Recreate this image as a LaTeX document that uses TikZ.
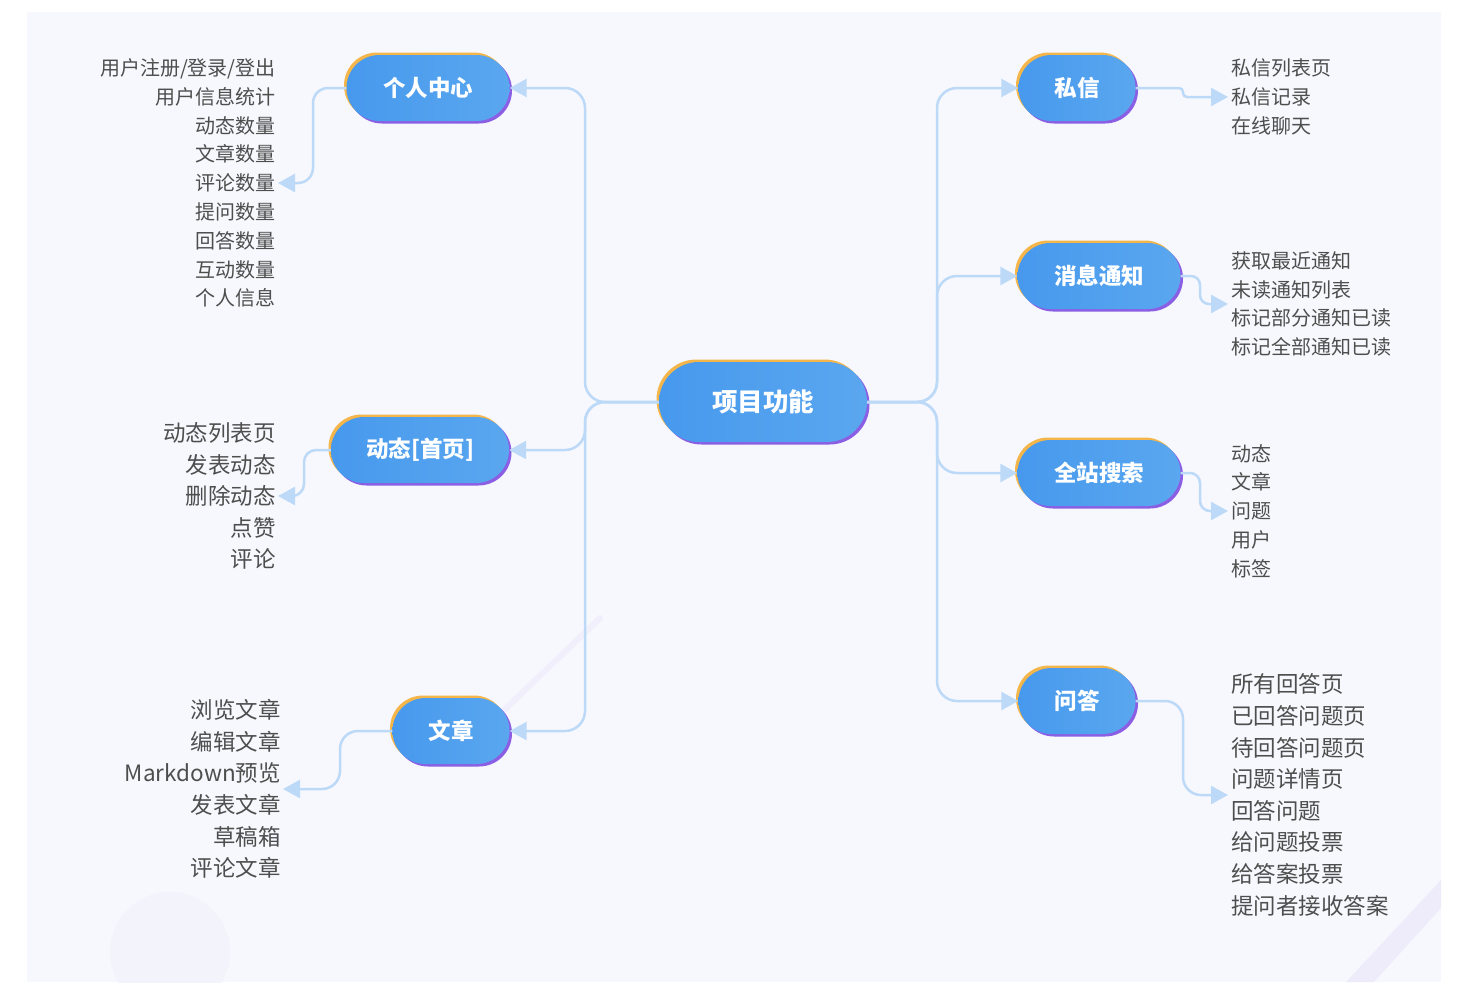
\documentclass[tikz,border=0pt]{standalone}
\usepackage{fontspec}
\setmainfont{Noto Sans CJK SC}
\usetikzlibrary{arrows.meta,shadows}
\definecolor{bg}{HTML}{F7F8FD}
\definecolor{nblue}{HTML}{4799EE}
\definecolor{nblue2}{HTML}{5AA7EF}
\definecolor{norange}{HTML}{F4B64A}
\definecolor{npurple}{HTML}{8B5FE4}
\definecolor{conncol}{HTML}{BCD9F8}
\definecolor{txt}{HTML}{4E4E4E}
\definecolor{deco}{HTML}{F2F3FB}
\definecolor{deco2}{HTML}{EEECFB}
\tikzset{
 topic/.style={rectangle, rounded corners=33pt, minimum height=66pt, inner sep=0pt,
   left color=nblue, right color=nblue2, text=white,
   font=\fontsize{22.5pt}{26pt}\selectfont\bfseries,
   general shadow={shadow xshift=-2.5pt, shadow yshift=2.5pt, fill=norange},
   general shadow={shadow xshift=2.5pt, shadow yshift=-2.5pt, fill=npurple}},
 conn/.style={draw=conncol, line width=2.5pt, -{Triangle[length=17pt,width=18pt]}},
 listl/.style={anchor=east, align=right, inner sep=0pt, text=txt},
 listr/.style={anchor=west, align=left, inner sep=0pt, text=txt},
 smalltxt/.style={font=\fontsize{20pt}{28.8pt}\selectfont},
 bigtxt/.style={font=\fontsize{22.5pt}{31.6pt}\selectfont},
}
\begin{document}
\begin{tikzpicture}[x=1pt,y=-1pt]
\useasboundingbox (0,0) rectangle (1464,1004);
\fill[white] (0,0) rectangle (1464,1004);
\fill[bg] (27,12) rectangle (1441,982);
\begin{scope}
\clip (27,12) rectangle (1441,982);
\fill[deco] (170,952) circle[radius=60pt];
\fill[deco2] (1441,880) -- (1441,908) -- (1374,982) -- (1346,982) -- cycle;
\draw[deco2, opacity=0.7, line width=6pt, line cap=round] (600,618) -- (498,716);
\end{scope}

% topics
\node[topic, minimum width=208pt, minimum height=80pt, rounded corners=40pt,
      font=\fontsize{25.5pt}{28pt}\selectfont\bfseries] (c) at (763,402) {项目功能};
\node[topic, minimum width=163pt] (p1) at (428,88) {个人中心};
\node[topic, minimum width=178pt] (p2) at (420,450) {动态[首页]};
\node[topic, minimum width=117pt] (p3) at (451,731) {文章};
\node[topic, minimum width=117pt] (s1) at (1077,88) {私信};
\node[topic, minimum width=163pt] (s2) at (1099,276) {消息通知};
\node[topic, minimum width=163pt] (s3) at (1099,473) {全站搜索};
\node[topic, minimum width=117pt] (s4) at (1077,701) {问答};

% lists
\node[listl, smalltxt] (l1) at (276,183) {用户注册/登录/登出\\用户信息统计\\动态数量\\文章数量\\评论数量\\提问数量\\回答数量\\互动数量\\个人信息};
\node[listl, bigtxt] (l2) at (276,496) {动态列表页\\发表动态\\删除动态\\点赞\\评论};
\node[listl, bigtxt] (l3) at (281,789) {浏览文章\\编辑文章\\Markdown预览\\发表文章\\草稿箱\\评论文章};
\node[listr, smalltxt] (r1) at (1231,97) {私信列表页\\私信记录\\在线聊天};
\node[listr, smalltxt] (r2) at (1231,304) {获取最近通知\\未读通知列表\\标记部分通知已读\\标记全部通知已读};
\node[listr, smalltxt] (r3) at (1231,511) {动态\\文章\\问题\\用户\\标签};
\node[listr, bigtxt] (r4) at (1231,795) {所有回答页\\已回答问题页\\待回答问题页\\问题详情页\\回答问题\\给问题投票\\给答案投票\\提问者接收答案};

% junctions
\coordinate (jl) at (585,402);
\coordinate (jr) at (937,402);
\draw[conn, rounded corners=20pt] (c.west) -- (jl) |- (p1.east);
\draw[conn, rounded corners=20pt] (c.west) -- (jl) |- (p2.east);
\draw[conn, rounded corners=20pt] (c.west) -- (jl) |- (p3.east);
\draw[conn, rounded corners=20pt] (c.east) -- (jr) |- (s1.west);
\draw[conn, rounded corners=20pt] (c.east) -- (jr) |- (s2.west);
\draw[conn, rounded corners=20pt] (c.east) -- (jr) |- (s3.west);
\draw[conn, rounded corners=20pt] (c.east) -- (jr) |- (s4.west);

% child connectors
\coordinate (t1) at (278,183); \coordinate (k1) at (313,183);
\coordinate (t2) at (278,496); \coordinate (k2) at (304,496);
\coordinate (t3) at (283,789); \coordinate (k3) at (340,789);
\coordinate (t5) at (1228,97); \coordinate (k5) at (1183,97);
\coordinate (t6) at (1228,304); \coordinate (k6) at (1200,304);
\coordinate (t7) at (1228,511); \coordinate (k7) at (1200,511);
\coordinate (t8) at (1228,795); \coordinate (k8) at (1183,795);
\draw[conn, rounded corners=15pt] (p1.west) -| (k1) -- (t1);
\draw[conn, rounded corners=12pt] (p2.west) -| (k2) -- (t2);
\draw[conn, rounded corners=18pt] (p3.west) -| (k3) -- (t3);
\draw[conn, rounded corners=4pt] (s1.east) -| (k5) -- (t5);
\draw[conn, rounded corners=9pt] (s2.east) -| (k6) -- (t6);
\draw[conn, rounded corners=10pt] (s3.east) -| (k7) -- (t7);
\draw[conn, rounded corners=18pt] (s4.east) -| (k8) -- (t8);
\end{tikzpicture}
\end{document}
